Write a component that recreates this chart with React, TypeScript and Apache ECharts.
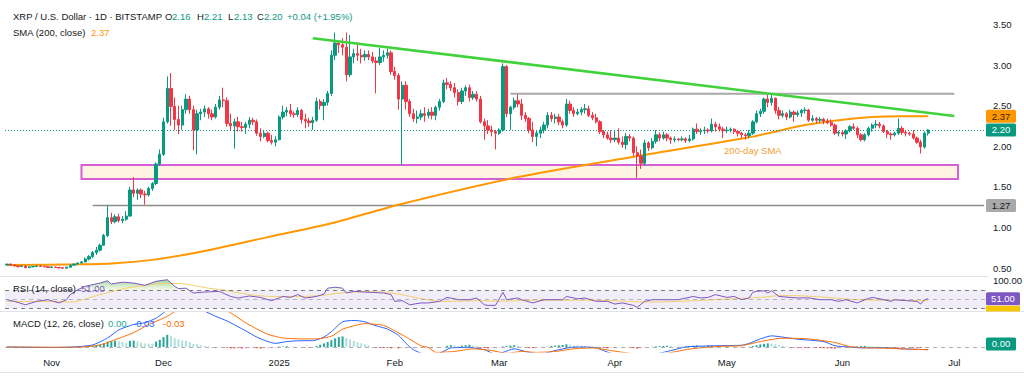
import React, { useEffect, useRef } from "react";
import * as echarts from "echarts";

// ---------- DATA ----------
const START_DATE = "2024-10-20";
const CATEGORY_COUNT = 263; // Oct 20, 2024 .. Jul 9, 2025
const MONTHS = ["Jan", "Feb", "Mar", "Apr", "May", "Jun", "Jul", "Aug", "Sep", "Oct", "Nov", "Dec"];
const PRICE_TICKS = [0.5, 1.0, 1.5, 2.0, 2.5, 3.0, 3.5];

// daily candles from Oct 20, 2024: [open, close, low, high]
const ohlc: number[][] = [
  // Oct 20-31
  [0.537,0.548,0.532,0.552],[0.548,0.536,0.530,0.556],[0.536,0.525,0.518,0.540],[0.525,0.518,0.505,0.530],
  [0.518,0.524,0.512,0.530],[0.524,0.505,0.496,0.532],[0.505,0.514,0.502,0.518],[0.514,0.520,0.509,0.524],
  [0.520,0.525,0.510,0.528],[0.525,0.520,0.514,0.535],[0.520,0.515,0.510,0.526],[0.515,0.506,0.500,0.520],
  // Nov
  [0.506,0.512,0.500,0.522],[0.512,0.508,0.503,0.516],[0.508,0.503,0.493,0.512],[0.503,0.498,0.490,0.508],
  [0.498,0.510,0.495,0.516],[0.510,0.535,0.505,0.545],[0.535,0.548,0.530,0.556],[0.548,0.562,0.540,0.570],
  [0.562,0.575,0.555,0.585],[0.575,0.610,0.570,0.630],[0.610,0.640,0.595,0.660],[0.640,0.690,0.620,0.710],
  [0.690,0.720,0.660,0.760],[0.720,0.780,0.700,0.800],[0.780,0.900,0.770,0.920],[0.900,1.120,0.880,1.270],
  [1.120,1.070,1.040,1.180],[1.070,1.130,1.050,1.160],[1.130,1.085,1.060,1.170],[1.085,1.100,1.050,1.140],
  [1.100,1.140,1.080,1.200],[1.140,1.460,1.130,1.500],[1.460,1.420,1.370,1.620],[1.420,1.460,1.340,1.480],
  [1.460,1.410,1.360,1.480],[1.410,1.400,1.280,1.450],[1.400,1.480,1.380,1.500],[1.480,1.540,1.450,1.560],
  [1.540,1.780,1.520,1.800],[1.780,1.900,1.760,1.960],
  // Dec
  [1.900,2.300,1.880,2.350],[2.300,2.710,2.280,2.860],[2.710,2.490,2.250,2.900],[2.490,2.330,2.200,2.600],
  [2.330,2.260,2.150,2.500],[2.260,2.450,2.200,2.500],[2.450,2.580,2.400,2.640],[2.580,2.450,2.400,2.620],
  [2.450,2.200,1.950,2.500],[2.200,2.400,1.900,2.450],[2.400,2.420,2.320,2.460],[2.420,2.460,2.360,2.500],
  [2.460,2.400,2.340,2.480],[2.400,2.360,2.320,2.450],[2.360,2.480,2.340,2.520],[2.480,2.570,2.450,2.620],
  [2.570,2.560,2.480,2.720],[2.560,2.280,2.240,2.600],[2.280,2.250,2.200,2.400],[2.250,2.300,1.970,2.340],
  [2.300,2.240,2.180,2.360],[2.240,2.230,2.180,2.300],[2.230,2.270,2.150,2.300],[2.270,2.320,2.220,2.360],
  [2.320,2.300,2.260,2.350],[2.300,2.160,2.130,2.330],[2.160,2.120,2.060,2.220],[2.120,2.160,2.100,2.200],
  [2.160,2.070,2.050,2.180],[2.070,2.050,2.020,2.140],[2.050,2.080,2.000,2.120],
  // Jan
  [2.080,2.360,2.070,2.380],[2.360,2.420,2.330,2.500],[2.420,2.440,2.370,2.480],[2.440,2.400,2.360,2.520],
  [2.400,2.390,2.350,2.430],[2.390,2.440,2.360,2.480],[2.440,2.330,2.280,2.460],[2.330,2.310,2.220,2.400],
  [2.310,2.290,2.240,2.350],[2.290,2.320,2.200,2.360],[2.320,2.550,2.300,2.600],[2.550,2.500,2.450,2.580],
  [2.500,2.540,2.320,2.580],[2.540,2.650,2.500,2.680],[2.650,3.120,2.620,3.180],[3.120,3.270,3.060,3.400],
  [3.270,3.250,3.150,3.300],[3.250,3.220,3.120,3.330],[3.220,2.880,2.800,3.400],[2.880,3.100,2.850,3.370],
  [3.100,3.140,3.020,3.200],[3.140,3.120,3.050,3.280],[3.120,3.100,3.020,3.200],[3.100,3.130,3.050,3.180],
  [3.130,3.100,3.060,3.180],[3.100,3.050,3.020,3.160],[3.050,3.030,2.650,3.100],[3.030,3.100,3.000,3.210],
  [3.100,3.120,3.040,3.180],[3.120,3.150,3.080,3.200],[3.150,2.920,2.880,3.180],
  // Feb
  [2.920,2.870,2.820,2.980],[2.870,2.580,2.450,2.900],[2.580,2.750,1.770,2.800],[2.750,2.550,2.450,2.800],
  [2.550,2.400,2.360,2.580],[2.400,2.340,2.300,2.460],[2.340,2.360,2.280,2.440],[2.360,2.400,2.320,2.450],
  [2.400,2.380,2.300,2.480],[2.380,2.420,2.340,2.460],[2.420,2.380,2.330,2.480],[2.380,2.480,2.320,2.500],
  [2.480,2.550,2.440,2.580],[2.550,2.780,2.530,2.820],[2.780,2.760,2.700,2.840],[2.760,2.720,2.680,2.800],
  [2.720,2.660,2.600,2.780],[2.660,2.550,2.500,2.700],[2.550,2.680,2.520,2.720],[2.680,2.720,2.620,2.750],
  [2.720,2.600,2.550,2.760],[2.600,2.640,2.570,2.680],[2.640,2.580,2.550,2.680],[2.580,2.300,2.280,2.620],
  [2.300,2.250,2.080,2.340],[2.250,2.200,2.150,2.320],[2.200,2.180,2.120,2.250],[2.180,2.160,1.960,2.200],
  // Mar
  [2.160,2.200,2.140,2.220],[2.200,2.980,2.180,3.020],[2.980,2.400,2.360,3.000],[2.400,2.480,2.200,2.500],
  [2.480,2.560,2.450,2.600],[2.560,2.520,2.480,2.650],[2.520,2.380,2.320,2.580],[2.380,2.340,2.300,2.420],
  [2.340,2.200,2.160,2.360],[2.200,2.120,2.050,2.300],[2.120,2.160,2.000,2.200],[2.160,2.200,2.100,2.240],
  [2.200,2.260,2.160,2.300],[2.260,2.380,2.220,2.420],[2.380,2.340,2.300,2.420],[2.340,2.360,2.280,2.400],
  [2.360,2.300,2.260,2.400],[2.300,2.260,2.220,2.330],[2.260,2.520,2.240,2.580],[2.520,2.440,2.400,2.560],
  [2.440,2.400,2.360,2.480],[2.400,2.420,2.380,2.460],[2.420,2.450,2.380,2.480],[2.450,2.460,2.400,2.520],
  [2.460,2.380,2.360,2.500],[2.380,2.350,2.320,2.420],[2.350,2.300,2.280,2.400],[2.300,2.180,2.150,2.320],
  [2.180,2.140,2.100,2.200],[2.140,2.100,2.080,2.180],[2.100,2.080,2.040,2.200],
  // Apr
  [2.080,2.100,2.050,2.200],[2.100,2.050,2.020,2.220],[2.050,2.020,1.980,2.120],[2.020,2.120,1.960,2.160],
  [2.120,2.100,2.060,2.150],[2.100,1.920,1.880,2.120],[1.920,1.880,1.610,2.000],[1.880,1.790,1.720,1.960],
  [1.790,2.040,1.760,2.080],[2.040,1.980,1.940,2.060],[1.980,2.060,1.960,2.100],[2.060,2.140,2.030,2.200],
  [2.140,2.100,2.060,2.170],[2.100,2.140,2.080,2.180],[2.140,2.100,2.060,2.160],[2.100,2.080,2.030,2.120],
  [2.080,2.090,2.050,2.120],[2.090,2.080,2.060,2.100],[2.080,2.090,2.060,2.120],[2.090,2.070,2.040,2.110],
  [2.070,2.090,2.050,2.140],[2.090,2.210,2.070,2.230],[2.210,2.180,2.150,2.280],[2.180,2.190,2.140,2.220],
  [2.190,2.200,2.150,2.240],[2.200,2.190,2.160,2.220],[2.190,2.270,2.170,2.340],[2.270,2.240,2.180,2.300],
  [2.240,2.210,2.180,2.280],[2.210,2.190,2.100,2.240],
  // May
  [2.190,2.200,2.160,2.240],[2.200,2.210,2.170,2.230],[2.210,2.180,2.150,2.220],[2.180,2.160,2.120,2.200],
  [2.160,2.140,2.100,2.180],[2.140,2.130,2.080,2.160],[2.130,2.160,2.100,2.200],[2.160,2.300,2.140,2.320],
  [2.300,2.400,2.280,2.440],[2.400,2.430,2.360,2.460],[2.430,2.580,2.400,2.600],[2.580,2.540,2.480,2.650],
  [2.540,2.590,2.500,2.630],[2.590,2.440,2.400,2.600],[2.440,2.380,2.330,2.480],[2.380,2.400,2.350,2.440],
  [2.400,2.360,2.320,2.420],[2.360,2.420,2.340,2.450],[2.420,2.390,2.300,2.440],[2.390,2.410,2.360,2.440],
  [2.410,2.440,2.360,2.460],[2.440,2.445,2.400,2.480],[2.445,2.320,2.300,2.460],[2.320,2.340,2.300,2.380],
  [2.340,2.320,2.280,2.360],[2.320,2.330,2.290,2.360],[2.330,2.310,2.270,2.350],[2.310,2.290,2.270,2.340],
  [2.290,2.260,2.240,2.330],[2.260,2.160,2.140,2.280],[2.160,2.170,2.120,2.190],
  // Jun 1-24
  [2.170,2.150,2.120,2.190],[2.150,2.190,2.090,2.210],[2.190,2.240,2.170,2.260],[2.240,2.220,2.200,2.280],
  [2.220,2.140,2.100,2.240],[2.140,2.080,2.060,2.160],[2.080,2.140,2.060,2.160],[2.140,2.220,2.120,2.240],
  [2.220,2.260,2.180,2.280],[2.260,2.270,2.220,2.320],[2.270,2.250,2.220,2.300],[2.250,2.180,2.160,2.270],
  [2.180,2.150,2.100,2.200],[2.150,2.140,2.080,2.170],[2.140,2.160,2.120,2.180],[2.160,2.220,2.140,2.340],
  [2.220,2.170,2.140,2.250],[2.170,2.160,2.120,2.200],[2.160,2.150,2.130,2.180],[2.150,2.100,2.080,2.200],
  [2.100,2.050,2.030,2.120],[2.050,1.990,1.910,2.080],[1.990,2.160,1.970,2.180],[2.160,2.200,2.130,2.210],
];

const sma200: [string, number][] = [
  ["2024-10-20",0.537],["2024-11-09",0.545],["2024-11-18",0.56],["2024-11-28",0.60],["2024-12-11",0.70],
  ["2024-12-29",0.88],["2025-01-15",1.05],["2025-02-02",1.28],["2025-03-06",1.62],["2025-04-06",1.87],
  ["2025-05-07",2.11],["2025-05-22",2.26],["2025-05-31",2.32],["2025-06-09",2.36],["2025-06-16",2.37],["2025-06-24",2.37],
];

const trendLine: [string, number][] = [["2025-01-10", 3.33], ["2025-07-01", 2.372]];
const resistanceLine: [string, number][] = [["2025-03-04", 2.645], ["2025-07-01", 2.645]];
const supportLine: [string, number][] = [["2024-11-12", 1.27], ["2025-07-09", 1.27]];
const supportZone = { from: "2024-11-09", to: "2025-07-02", top: 1.768, bottom: 1.596 };
const lastClose = 2.2;
const lastSma = 2.37;

const rsi: [string, number][] = [
  ["2024-10-20",49],["2024-10-22",45.5],["2024-10-25",38],["2024-10-28",45.5],["2024-10-31",49],["2024-11-03",42],
  ["2024-11-05",49],["2024-11-06",60],["2024-11-08",70.7],["2024-11-10",78],["2024-11-14",85],["2024-11-16",90],
  ["2024-11-17",83],["2024-11-20",87],["2024-11-23",85],["2024-11-26",80],["2024-11-29",88.7],["2024-12-02",92.3],
  ["2024-12-04",78],["2024-12-05",73],["2024-12-07",74],["2024-12-09",63.5],["2024-12-12",65.6],["2024-12-16",67],
  ["2024-12-19",56],["2024-12-21",52.7],["2024-12-24",57],["2024-12-27",54],["2024-12-29",49],["2024-12-30",47],
  ["2025-01-02",56],["2025-01-04",54],["2025-01-06",60],["2025-01-08",52.7],["2025-01-11",56],["2025-01-13",61],
  ["2025-01-14",74],["2025-01-16",76],["2025-01-18",74],["2025-01-19",63.5],["2025-01-21",67],["2025-01-24",65.6],
  ["2025-01-29",63.5],["2025-01-31",60],["2025-02-01",45.5],["2025-02-03",47],["2025-02-05",38],["2025-02-08",42],
  ["2025-02-10",42],["2025-02-13",45.5],["2025-02-15",54],["2025-02-17",51],["2025-02-18",49],["2025-02-21",49],
  ["2025-02-23",52.7],["2025-02-25",38],["2025-02-26",36.8],["2025-02-28",36.8],["2025-03-02",65],["2025-03-03",49],
  ["2025-03-06",52.7],["2025-03-07",49],["2025-03-10",42],["2025-03-13",49],["2025-03-15",49],["2025-03-18",49],
  ["2025-03-19",56],["2025-03-22",51],["2025-03-24",52.7],["2025-03-27",45.5],["2025-03-30",45.5],["2025-04-01",39.6],
  ["2025-04-03",42],["2025-04-06",36.8],["2025-04-07",32.6],["2025-04-09",45.5],["2025-04-11",49],["2025-04-15",49],
  ["2025-04-18",49],["2025-04-22",56],["2025-04-24",52.7],["2025-04-26",54],["2025-04-28",60],["2025-05-01",54],
  ["2025-05-03",56],["2025-05-05",49],["2025-05-07",52.7],["2025-05-08",65],["2025-05-09",67],["2025-05-11",68.5],
  ["2025-05-12",63.5],["2025-05-13",68.5],["2025-05-15",56],["2025-05-18",54],["2025-05-20",52.7],["2025-05-23",53],
  ["2025-05-26",49],["2025-05-29",49],["2025-05-31",45.5],["2025-06-02",49],["2025-06-05",42],["2025-06-07",49],
  ["2025-06-09",54],["2025-06-11",51],["2025-06-14",45.5],["2025-06-15",49],["2025-06-18",47],["2025-06-21",45.5],
  ["2025-06-22",39.6],["2025-06-23",49],["2025-06-24",51],
];

const rsiMa: [string, number][] = [
  ["2024-10-20",45],["2024-11-01",45],["2024-11-06",44],["2024-11-09",48],["2024-11-13",58],["2024-11-17",66],
  ["2024-11-21",74],["2024-11-26",80],["2024-12-01",84],["2024-12-05",84],["2024-12-09",80],["2024-12-13",74],
  ["2024-12-17",70],["2024-12-21",64],["2024-12-26",58],["2024-12-31",56],["2025-01-06",56],["2025-01-12",58],
  ["2025-01-18",64],["2025-01-24",66],["2025-01-30",65],["2025-02-04",58],["2025-02-09",50],["2025-02-14",45],
  ["2025-02-19",46],["2025-02-24",47],["2025-03-01",46],["2025-03-11",48],["2025-03-21",48],["2025-03-31",47],
  ["2025-04-10",44],["2025-04-20",46],["2025-04-30",50],["2025-05-10",54],["2025-05-16",58],["2025-05-22",57],
  ["2025-05-28",54],["2025-06-03",50],["2025-06-09",48],["2025-06-15",48],["2025-06-21",47],["2025-06-24",47],
];

const macdLine: [string, number][] = [
  ["2024-10-20",0],["2024-11-01",-0.005],["2024-11-07",0],["2024-11-12",0.023],["2024-11-16",0.10],["2024-11-19",0.19],
  ["2024-11-23",0.25],["2024-11-26",0.27],["2024-11-29",0.32],["2024-12-01",0.38],["2024-12-04",0.48],["2024-12-07",0.52],
  ["2024-12-09",0.48],["2024-12-12",0.40],["2024-12-15",0.34],["2024-12-18",0.29],["2024-12-23",0.18],["2024-12-26",0.11],
  ["2024-12-29",0.06],["2024-12-31",0.04],["2025-01-03",0.06],["2025-01-07",0.07],["2025-01-10",0.07],["2025-01-13",0.11],
  ["2025-01-15",0.17],["2025-01-18",0.28],["2025-01-21",0.295],["2025-01-24",0.28],["2025-01-27",0.235],["2025-01-30",0.20],
  ["2025-02-02",0.13],["2025-02-04",0.04],["2025-02-06",-0.03],["2025-02-09",-0.08],["2025-02-13",-0.07],["2025-02-16",-0.01],
  ["2025-02-21",-0.005],["2025-02-25",-0.03],["2025-02-28",-0.08],["2025-03-02",-0.06],["2025-03-05",-0.02],["2025-03-08",-0.05],
  ["2025-03-12",-0.08],["2025-03-16",-0.04],["2025-03-20",-0.005],["2025-03-24",0],["2025-03-27",-0.01],["2025-03-31",-0.07],
  ["2025-04-05",-0.09],["2025-04-08",-0.12],["2025-04-12",-0.08],["2025-04-16",-0.04],["2025-04-20",0],["2025-04-25",0.01],
  ["2025-04-30",0.015],["2025-05-05",0.02],["2025-05-07",0.04],["2025-05-10",0.09],["2025-05-13",0.124],["2025-05-16",0.11],
  ["2025-05-20",0.087],["2025-05-27",0.06],["2025-05-30",0.014],["2025-06-03",0],["2025-06-06",-0.01],["2025-06-11",-0.008],
  ["2025-06-17",-0.02],["2025-06-24",-0.03],
];

const signalLine: [string, number][] = [
  ["2024-10-20",0],["2024-11-01",-0.003],["2024-11-09",0],["2024-11-14",0.023],["2024-11-18",0.08],["2024-11-23",0.16],
  ["2024-11-27",0.25],["2024-12-02",0.34],["2024-12-05",0.42],["2024-12-11",0.48],["2024-12-16",0.44],["2024-12-19",0.38],
  ["2024-12-23",0.27],["2024-12-26",0.20],["2024-12-29",0.14],["2025-01-02",0.10],["2025-01-07",0.09],["2025-01-11",0.09],
  ["2025-01-15",0.12],["2025-01-18",0.198],["2025-01-22",0.246],["2025-01-24",0.26],["2025-01-29",0.24],["2025-02-01",0.18],
  ["2025-02-05",0.087],["2025-02-08",0.013],["2025-02-10",-0.005],["2025-02-12",-0.06],["2025-02-17",-0.05],["2025-02-22",-0.02],
  ["2025-02-27",-0.04],["2025-03-03",-0.07],["2025-03-07",-0.05],["2025-03-11",-0.06],["2025-03-16",-0.05],["2025-03-21",-0.02],
  ["2025-03-26",-0.01],["2025-03-31",-0.04],["2025-04-05",-0.07],["2025-04-10",-0.09],["2025-04-15",-0.07],["2025-04-20",-0.03],
  ["2025-04-25",-0.005],["2025-04-30",0.008],["2025-05-05",0.015],["2025-05-10",0.06],["2025-05-16",0.098],["2025-05-23",0.09],
  ["2025-05-30",0.05],["2025-06-03",0.005],["2025-06-07",-0.008],["2025-06-14",-0.015],["2025-06-19",-0.025],["2025-06-24",-0.03],
];

// daily MACD histogram from Oct 20, 2024
const macdHist: number[] = [
  0.001,0,-0.001,-0.002,-0.001,-0.002,-0.002,-0.001,-0.001,-0.001,-0.002,-0.002,
  -0.001,-0.002,-0.002,-0.003,-0.002,0.001,0.003,0.004,
  0.006,0.008,0.012,0.016,0.022,0.028,0.040,0.060,
  0.066,0.070,0.064,0.055,0.048,0.068,
  0.072,0.060,0.050,0.040,0.038,0.035,0.060,0.080,
  0.110,0.135,0.120,0.100,
  0.085,0.075,0.070,0.055,0.035,0.030,0.020,
  0.012,0.005,-0.004,-0.006,-0.005,-0.004,-0.010,
  -0.015,-0.016,-0.015,-0.017,-0.016,-0.014,-0.013,-0.015,-0.017,-0.016,-0.015,-0.013,-0.012,
  0.004,0.006,0.008,0.006,0.004,0.003,-0.003,-0.005,-0.006,-0.004,
  0.012,0.025,0.040,0.055,0.075,0.095,0.110,0.117,
  0.100,0.085,0.070,0.055,0.040,0.028,0.018,
  -0.005,-0.008,-0.010,-0.010,-0.012,-0.014,-0.012,-0.015,-0.013,-0.012,
  -0.010,-0.008,-0.007,-0.006,-0.005,-0.004,-0.005,-0.003,-0.002,0.002,
  0.012,0.020,0.018,0.012,0.015,0.020,0.025,0.018,0.010,
  -0.008,-0.012,-0.015,-0.012,-0.010,-0.008,0.005,0.010,
  0.015,0.020,0.012,0.006,
  -0.006,-0.010,-0.012,-0.008,-0.005,-0.003,
  0.004,0.010,0.015,0.018,0.022,0.030,0.025,0.020,0.018,0.015,0.010,0.006,0.004,0.002,
  -0.006,-0.012,-0.015,-0.013,-0.010,-0.006,
  -0.005,-0.003,-0.006,-0.012,-0.018,-0.015,-0.006,-0.002,
  0.003,0.006,0.010,0.012,0.014,0.012,0.010,0.008,0.006,0.006,0.010,0.015,0.018,0.016,0.014,0.018,0.020,0.016,0.012,0.010,0.008,
  0.004,0.002,-0.002,-0.004,-0.003,0.002,
  0.010,0.020,0.030,0.035,0.040,0.038,0.030,0.022,0.015,0.008,
  -0.004,-0.006,-0.008,-0.008,-0.010,-0.012,-0.010,-0.010,-0.012,-0.013,-0.015,-0.016,-0.018,-0.015,-0.012,-0.010,-0.006,
  0.003,0.006,0.010,0.012,0.010,0.008,0.005,0.002,
  -0.003,-0.005,-0.006,-0.008,-0.008,-0.006,-0.005,-0.006,-0.008,-0.008,-0.010,-0.006,-0.002,
];

const smaLabelAt: [string, number] = ["2025-05-08", 1.953];

// ---------- STYLE ----------
const FONT = '"Liberation Sans", Arial, sans-serif';
const FS = 9.5;
const TXT = "#131722";
const UP = "#089981";
const DOWN = "#f23645";

function buildDates(): string[] {
  const out: string[] = [];
  const t0 = Date.parse(START_DATE + "T00:00:00Z");
  for (let i = 0; i < CATEGORY_COUNT; i++) out.push(new Date(t0 + i * 86400000).toISOString().slice(0, 10));
  return out;
}

export default function App() {
  const ref = useRef<HTMLDivElement>(null);
  useEffect(() => {
    if (!ref.current) return;
    const chart = echarts.init(ref.current, undefined, { renderer: "svg" });
    const dates = buildDates();

    const histData = macdHist.map((v, i) => {
      const prev = i > 0 ? macdHist[i - 1] : 0;
      let c: string;
      if (v >= 0) c = v >= prev ? "#26a69a" : "#b2dfdb";
      else c = v <= prev ? "#ff5252" : "#ffcdd2";
      return { value: v, itemStyle: { color: c } };
    });
    const overbought = rsi.map(([d, v]) => [d, Math.max(v, 70)]);

    const gridLeft = 5;
    const gridRight = 38;
    const xAxisBase = (gi: number) => ({
      type: "category",
      gridIndex: gi,
      data: dates,
      boundaryGap: true,
      axisLine: { show: false },
      axisTick: { show: false },
      splitLine: { show: false },
      axisLabel: gi === 2
        ? {
            show: true,
            interval: (_i: number, v: string) => v.slice(8) === "01",
            formatter: (v: string) => {
              const m = parseInt(v.slice(5, 7), 10);
              return m === 1 ? v.slice(0, 4) : MONTHS[m - 1];
            },
            color: TXT,
            fontSize: FS,
            fontFamily: FONT,
            margin: 5,
          }
        : { show: false },
    });

    const option: any = {
      animation: false,
      backgroundColor: "#ffffff",
      grid: [
        { left: gridLeft, right: gridRight, top: 0, height: 276 },
        { left: gridLeft, right: gridRight, top: 276, height: 35.5 },
        { left: gridLeft, right: gridRight, top: 311.5, height: 40.5 },
      ],
      xAxis: [xAxisBase(0), xAxisBase(1), xAxisBase(2)],
      yAxis: [
        {
          type: "value", gridIndex: 0, position: "right", min: 0.4015, max: 3.8005, splitNumber: 5,
          axisLine: { show: false }, axisTick: { show: false }, splitLine: { show: false },
          axisLabel: {
            color: TXT, fontSize: FS, fontFamily: FONT, margin: 7,
            formatter: (v: number) => (PRICE_TICKS.some((t) => Math.abs(t - v) < 1e-6) ? v.toFixed(2) : ""),
          },
        },
        { type: "value", gridIndex: 1, min: 23.51, max: 100.27, show: false },
        { type: "value", gridIndex: 2, min: -0.0556, max: 0.3944, show: false },
      ],
      series: [
        {
          name: "support", type: "line", xAxisIndex: 0, yAxisIndex: 0, data: supportLine, symbol: "none",
          lineStyle: { color: "#8c8c8c", width: 1.5 }, z: 2,
          markArea: {
            silent: true,
            itemStyle: { color: "rgba(253,236,206,0.6)", borderColor: "#d65fd6", borderWidth: 2 },
            data: [[{ xAxis: supportZone.from, yAxis: supportZone.top }, { xAxis: supportZone.to, yAxis: supportZone.bottom }]],
          },
        },
        {
          name: "sma", type: "line", xAxisIndex: 0, yAxisIndex: 0, data: sma200, symbol: "none", smooth: 0.25,
          lineStyle: { color: "#ff9800", width: 2 }, z: 4,
        },
        {
          name: "candles", type: "candlestick", xAxisIndex: 0, yAxisIndex: 0, data: ohlc, barWidth: 2.8, z: 5,
          itemStyle: { color: UP, color0: DOWN, borderColor: UP, borderColor0: DOWN, borderWidth: 1 },
          markLine: {
            silent: true, symbol: "none", label: { show: false },
            lineStyle: { color: UP, type: [1, 2], width: 1 },
            data: [{ yAxis: lastClose }],
          },
        },
        {
          name: "resistance", type: "line", xAxisIndex: 0, yAxisIndex: 0, data: resistanceLine, symbol: "none",
          lineStyle: { color: "#a8a8a8", width: 2 }, z: 6,
        },
        {
          name: "trend", type: "line", xAxisIndex: 0, yAxisIndex: 0, data: trendLine, symbol: "none",
          lineStyle: { color: "#3fd23a", width: 2.5 }, z: 7,
        },
        {
          name: "overbought", type: "line", xAxisIndex: 1, yAxisIndex: 1, data: overbought, symbol: "none",
          lineStyle: { width: 0, opacity: 0 },
          areaStyle: {
            origin: 70,
            color: new echarts.graphic.LinearGradient(0, 0, 0, 1, [
              { offset: 0, color: "rgba(56,168,72,0.75)" },
              { offset: 1, color: "rgba(200,230,150,0.35)" },
            ]),
          },
          z: 2,
          markArea: {
            silent: true, itemStyle: { color: "rgba(126,87,194,0.1)" },
            data: [[{ yAxis: 70 }, { yAxis: 30 }]],
          },
          markLine: {
            silent: true, symbol: "none", label: { show: false },
            data: [
              { yAxis: 70, lineStyle: { color: "#787b86", type: [4, 4], width: 1 } },
              { yAxis: 50, lineStyle: { color: "rgba(120,123,134,0.5)", type: [4, 4], width: 1 } },
              { yAxis: 30, lineStyle: { color: "#787b86", type: [4, 4], width: 1 } },
            ],
          },
        },
        {
          name: "rsiMa", type: "line", xAxisIndex: 1, yAxisIndex: 1, data: rsiMa, symbol: "none", smooth: 0.3,
          lineStyle: { color: "#f3cf6a", width: 1 }, z: 3,
        },
        {
          name: "rsi", type: "line", xAxisIndex: 1, yAxisIndex: 1, data: rsi, symbol: "none",
          lineStyle: { color: "#7e57c2", width: 1 }, z: 4,
        },
        {
          name: "hist", type: "bar", xAxisIndex: 2, yAxisIndex: 2, data: histData, barWidth: 2, z: 2,
          markLine: {
            silent: true, symbol: "none", label: { show: false },
            lineStyle: { color: "rgba(120,123,134,0.6)", type: [4, 4], width: 1 },
            data: [{ yAxis: 0 }],
          },
        },
        {
          name: "macd", type: "line", xAxisIndex: 2, yAxisIndex: 2, data: macdLine, symbol: "none", smooth: 0.2,
          lineStyle: { color: "#2962ff", width: 1 }, z: 3,
        },
        {
          name: "signal", type: "line", xAxisIndex: 2, yAxisIndex: 2, data: signalLine, symbol: "none", smooth: 0.2,
          lineStyle: { color: "#ff6d00", width: 1 }, z: 3,
        },
      ],
    };
    chart.setOption(option);

    const py = (v: number) => chart.convertToPixel({ yAxisIndex: 0 }, v) as number;
    const ry = (v: number) => chart.convertToPixel({ yAxisIndex: 1 }, v) as number;
    const my = (v: number) => chart.convertToPixel({ yAxisIndex: 2 }, v) as number;
    const labelPt = chart.convertToPixel({ gridIndex: 0 }, [dates.indexOf(smaLabelAt[0]), smaLabelAt[1]]) as number[];

    const txt = (x: number, y: number, text: string, fill: string, extra: any = {}) => ({
      type: "text", x, y, z: 100,
      style: { text, fill, font: `${FS}px ${FONT}`, verticalAlign: "middle", align: "left", ...extra },
    });
    const tag = (y: number, text: string, bg: string, fg: string, w = 30) => ({
      type: "group", x: 986, y, z: 110,
      children: [
        { type: "rect", shape: { x: 0, y: -6.5, width: w, height: 13, r: 1.5 }, style: { fill: bg } },
        { type: "text", style: { text, x: w / 2, y: 0, align: "center", verticalAlign: "middle", fill: fg, font: `${FS}px ${FONT}` } },
      ],
    });
    const sep = (y: number) => ({ type: "line", z: 90, shape: { x1: 0, y1: y, x2: 1024, y2: y }, style: { stroke: "#e0e3eb", lineWidth: 1 } });

    chart.setOption({
      graphic: [
        sep(276.5), sep(311.5), sep(372.5),
        txt(13, 16, "XRP / U.S. Dollar · 1D · BITSTAMP", TXT),
        txt(165, 16, "O", TXT), txt(172, 16, "2.16", UP),
        txt(197, 16, "H", TXT), txt(204, 16, "2.21", UP),
        txt(228, 16, "L", TXT), txt(234, 16, "2.13", UP),
        txt(257, 16, "C", TXT), txt(264, 16, "2.20", UP),
        txt(287, 16, "+0.04 (+1.95%)", UP),
        txt(13, 32, "SMA (200, close)", TXT), txt(91, 32, "2.37", "#ff9800"),
        txt(labelPt[0], labelPt[1], "200-day SMA", "#f0a030", { align: "center" }),
        txt(13, 288, "RSI (14, close)", TXT), txt(81, 288, "51.00", "#7e57c2"),
        txt(13, 323, "MACD (12, 26, close)", TXT), txt(108, 323, "0.00", "#26a69a"),
        txt(133, 323, "-0.03", "#2962ff"), txt(163, 323, "-0.03", "#ff6d00"),
        txt(993, 280, "100.00", TXT),
        { type: "rect", z: 95, shape: { x: 988, y: 273.5, width: 36, height: 3.5 }, style: { fill: "#ffffff" } },
        tag(py(lastSma), "2.37", "#ff9800", "#3b2600"),
        tag(py(lastClose), "2.20", UP, "#ffffff"),
        tag(py(1.27), "1.27", "#a9a9a9", TXT),
        tag(ry(51), "51.00", "#7e57c2", "#ffffff", 34),
        { type: "rect", z: 105, shape: { x: 986, y: ry(51) + 7, width: 34, height: 311.5 - (ry(51) + 7) }, style: { fill: "#f7c600" } },
        tag(my(0) - 3, "0.00", UP, "#ffffff"),
      ],
    });

    return () => chart.dispose();
  }, []);

  return <div ref={ref} style={{ position: "fixed", left: 0, top: 0, width: 1024, height: 376, background: "#fff" }} />;
}
